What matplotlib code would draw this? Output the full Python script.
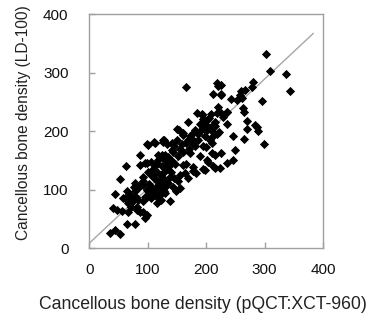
import matplotlib
matplotlib.use("Agg")
import matplotlib.pyplot as plt
import numpy as np

# pQCT (x) vs LD-100 (y) cancellous bone density
x_vals = [
    35, 44, 52, 64, 78, 41, 48, 56, 66, 81, 92, 98, 86, 95,
    44, 52, 63, 58, 61, 64, 69, 72, 72, 72, 66, 84, 92, 81, 78, 75, 80,
    78, 86, 92, 105, 98, 84, 92, 77,
    86, 86, 98, 95, 106, 118, 98, 101, 111, 113,
    106, 98, 101, 92, 95, 109, 109, 115, 115, 124, 124,
    121, 118, 126, 129, 135, 143, 149, 138, 155, 152,
    132, 141, 143, 152, 128, 132, 126,
    150, 138, 141, 146, 161, 155, 169, 164, 178, 166,
    172, 155, 189, 195, 203, 215, 215, 226, 235, 198, 212, 201,
    161, 178, 169, 175, 195, 209, 218,
    169, 184, 192, 229, 201, 212, 192, 235, 205, 198, 189, 215, 181, 221, 154, 161, 172, 198, 206, 126,
    165, 218, 220, 211, 226, 220, 218, 193, 235,
    303, 309, 336, 343, 280, 279, 266, 259, 258, 252, 243, 296, 225, 226, 261, 263, 265, 235,
    269, 269, 283, 286, 289, 246, 265, 299, 249, 245, 225,
    120, 125, 130, 122, 128, 133, 136, 125, 130, 135, 140, 117, 112, 119, 130, 127, 140, 145,
    112, 115, 106, 102, 110, 105, 116, 120, 123,
    145, 150, 158, 160, 165, 170, 176, 180, 185, 185, 190, 195, 200, 205, 210, 215, 208, 200,
    195, 210, 108, 112, 100, 118, 130, 135, 200, 209, 223, 177, 183,
]
y_vals = [
    25, 31, 24, 42, 42, 68, 65, 64, 62, 65, 62, 57, 62, 52,
    93, 118, 141, 85, 85, 97, 91, 88, 80, 71, 77, 82, 80, 71, 97, 80, 88,
    111, 108, 122, 125, 100, 102, 114, 105,
    159, 142, 145, 145, 148, 159, 178, 176, 181, 180,
    85, 88, 97, 108, 88, 91, 125, 77, 145, 159, 157,
    100, 114, 119, 94, 111, 105, 97, 80, 102, 114,
    142, 167, 165, 157, 184, 178, 182,
    203, 122, 179, 144, 142, 125, 119, 128, 131, 144,
    162, 169, 158, 135, 148, 137, 159, 162, 145, 134, 140, 151,
    196, 196, 185, 179, 175, 179, 195,
    216, 231, 228, 225, 219, 211, 211, 213, 222, 213, 212, 208, 202, 199, 202, 194, 191, 191, 185, 185,
    275, 283, 277, 263, 262, 241, 231, 229, 233,
    332, 303, 297, 268, 284, 276, 270, 269, 262, 253, 255, 252, 279, 263, 256, 239, 232, 232,
    218, 203, 211, 207, 201, 192, 186, 178, 168, 150, 231,
    105, 110, 115, 125, 130, 135, 140, 140, 150, 155, 150, 108, 100, 95, 105, 98, 130, 120,
    118, 130, 105, 110, 95, 92, 88, 90, 83,
    175, 185, 178, 165, 180, 170, 186, 175, 195, 185, 200, 205, 200, 205, 200, 215, 230, 210,
    220, 190, 135, 140, 130, 150, 160, 150, 173, 162, 137, 139, 128,
]

# fitted line (intercept, slope) and its x range
fit_intercept = 8.5
fit_slope = 0.936
fit_x = [0, 383]

ticks = [0, 100, 200, 300, 400]
xlabel = "Cancellous bone density (pQCT:XCT-960)"
ylabel = "Cancellous bone density (LD-100)"

fig = plt.figure(figsize=(3.68, 3.23), dpi=100)
ax = fig.add_axes([0.243, 0.232, 0.635, 0.724])

fx = np.array(fit_x, dtype=float)
ax.plot(fx, fit_intercept + fit_slope * fx, color="#a6a6a6", lw=1.0, zorder=1)
ax.scatter(x_vals, y_vals, marker="D", s=22, color="black", linewidths=0, zorder=2)

ax.set_xlim(0, 400)
ax.set_ylim(0, 400)
ax.set_xticks(ticks)
ax.set_yticks(ticks)
for sp in ax.spines.values():
    sp.set_color("#a0a0a0")
    sp.set_linewidth(1.0)
ax.tick_params(direction="in", length=4, width=1, color="#a0a0a0",
               labelsize=11, labelcolor="#111111")
ax.tick_params(axis="y", pad=15)
ax.tick_params(axis="x", pad=11)
for lab in ax.get_xticklabels() + ax.get_yticklabels():
    lab.set_family("Liberation Sans")

ax.set_xlabel(xlabel, fontsize=12.7, family="Liberation Sans", color="#222222",
              va="center", ha="center")
ax.set_ylabel(ylabel, fontsize=11.2, family="Liberation Sans", color="#222222",
              va="center", ha="center")
ax.xaxis.set_label_coords(0.486, -0.243)
ax.yaxis.set_label_coords(-0.28, 0.535)

fig.savefig("out.png", dpi=100)
